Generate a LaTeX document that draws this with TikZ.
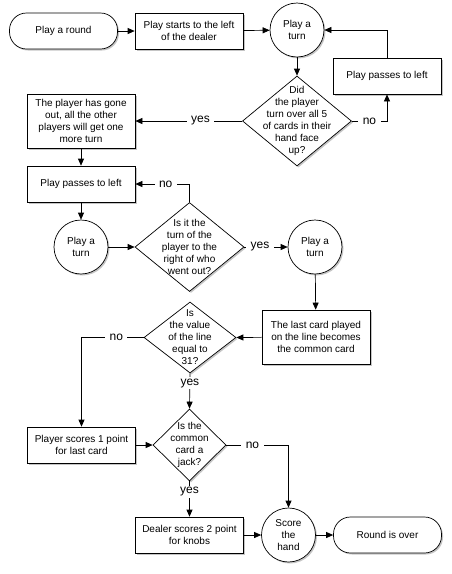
\documentclass[tikz,border=0pt]{standalone}
\usepackage{fontspec}
\setmainfont{Liberation Sans}
\usepackage{tikz}
\usetikzlibrary{arrows.meta,shapes.geometric,shadows}
\definecolor{box_shadow}{RGB}{140,140,140}
\begin{document}
\begin{tikzpicture}[->,>={Triangle[length=7pt,width=6pt]},line width=0.7pt,x=1pt,y=-1pt]
    \tikzstyle{node}=[draw=black, fill=white, text=black, align=center, font=\fontsize{10}{12}\selectfont, drop shadow={shadow xshift=1.5pt,shadow yshift=-1.5pt,fill=box_shadow,opacity=0.5}]
    \tikzstyle{act}=[style=node, rectangle, minimum width=108pt, minimum height=36pt, inner sep=2pt]
    \tikzstyle{term}=[style=act, rounded corners=17pt]
    \tikzstyle{turn}=[style=node, circle, minimum size=54pt, inner sep=0pt]
    \tikzstyle{ask}=[style=node, diamond, inner sep=0pt]
    \tikzstyle{asktext}=[align=center, font=\fontsize{10}{12}\selectfont, text=black, inner sep=0pt]
    \tikzstyle{answer}=[fill=white, inner xsep=4.5pt, inner ysep=1.5pt, font=\fontsize{12}{14}\selectfont, text=black]

    \useasboundingbox (0,0) rectangle (452,574);

    \node[term] (round) at (63.5,31)  {Play a round};
    \node[act]  (start) at (189,31)   {Play starts to the left\\of the dealer};
    \node[turn] (t1)    at (297,30)   {Play a\\turn};
    \node[act]  (pp1)   at (387,76)   {Play passes to left};
    \node[ask, minimum width=109pt, minimum height=90pt] (d1) at (297,121) {};
    \node[asktext] (l1) at (297,121)  {Did\\the player\\turn over all 5\\of cards in their\\hand face\\up?};
    \node[act, minimum height=54pt] (out) at (81,121) {The player has gone\\out, all the other\\players will get one\\more turn};
    \node[act]  (pp2)   at (81,184)   {Play passes to left};
    \node[turn] (t2)    at (81,247)   {Play a\\turn};
    \node[ask, minimum width=109pt, minimum height=89pt] (d2) at (189.5,247) {};
    \node[asktext] (l2) at (189.5,247) {Is it the\\turn of the\\player to the\\right of who\\went out?};
    \node[turn] (t3)    at (315,247)  {Play a\\turn};
    \node[act, minimum height=54pt] (last) at (316,337) {The last card played\\on the line becomes\\the common card};
    \node[ask, minimum width=92pt, minimum height=71pt] (d3) at (190,337.5) {};
    \node[asktext] (l3) at (190,337)  {Is\\the value\\of the line\\equal to\\31?};
    \node[act]  (ps)    at (81.5,445) {Player scores 1 point\\for last card};
    \node[ask, minimum width=73pt, minimum height=72pt] (d4) at (189.5,445) {};
    \node[asktext] (l4) at (189.5,445) {Is the\\common\\card a\\jack?};
    \node[act]  (ds)    at (189.5,535) {Dealer scores 2 point\\for knobs};
    \node[turn] (sc)    at (288.5,535) {Score\\the\\hand};
    \node[term] (over)  at (387.5,535) {Round is over};

    \path
     (round) edge (start)
     (start) edge (t1)
     (t1.south) edge (d1.north)
     (d1.west) edge node[answer, pos=0.39] {yes} (out.east)
     (out) edge (pp2)
     (pp2) edge (t2)
     (t2) edge (d2.west)
     (d2.east) edge node[answer, pos=0.36] {yes} (t3)
     (t3) edge (last)
     (last) edge (d3.east)
     (d3.south) edge node[answer, pos=0.28] {yes} (d4.north)
     (ps) edge (d4.west)
     (d4.south) edge node[answer, pos=0.3] {yes} (ds.north)
     (ds) edge (sc)
     (sc) edge (over)
     ;
    \draw (d1.east) -| node[answer, pos=0.25] {no} (pp1.south);
    \draw (pp1.north) |- (t1.east);
    \draw (d2.north) |- node[answer, pos=0.72] {no} (pp2.east);
    \draw (d3.west) -| node[answer, pos=0.22] {no} (ps.north);
    \draw (d4.east) -| node[answer, pos=0.21] {no} (sc.north);
\end{tikzpicture}
\end{document}
